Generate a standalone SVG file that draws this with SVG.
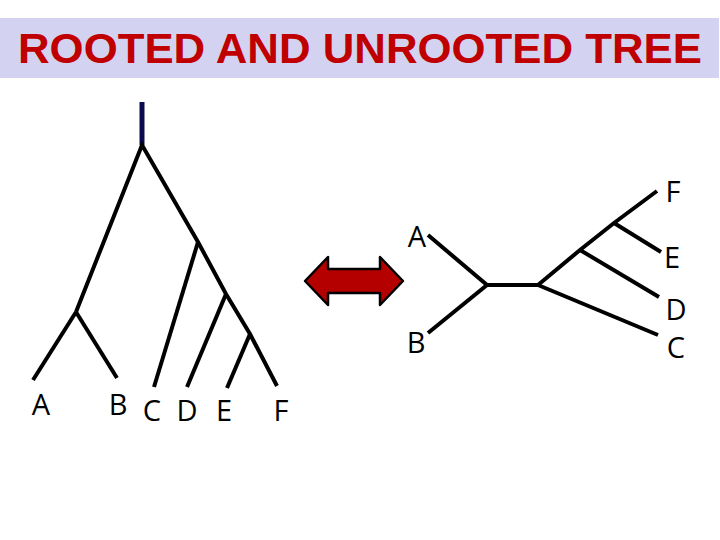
<svg xmlns="http://www.w3.org/2000/svg" width="720" height="540" viewBox="0 0 720 540">
<style>
.title{font-family:"Liberation Sans",Arial,sans-serif;font-weight:bold;font-size:43px;fill:#c00000}
.lbl{font-family:"Open Sans","DejaVu Sans",sans-serif;font-size:29px;fill:#000}
.br{stroke:#000;stroke-width:4;fill:none;stroke-linecap:butt}
</style>
<rect x="0" y="18" width="719" height="60" fill="#d3d3f1"/>
<text class="title" x="360" y="63" text-anchor="middle" textLength="684" lengthAdjust="spacingAndGlyphs">ROOTED AND UNROOTED TREE</text>
<g id="connectors">
<line x1="142" y1="102" x2="142" y2="145" stroke="#0a0a50" stroke-width="5"/>
<polyline class="br" points="76,312 142,145 198,242 226,294 250,334 277,386"/>
<line class="br" x1="76" y1="312" x2="33" y2="380"/>
<line class="br" x1="76" y1="312" x2="117" y2="378"/>
<line class="br" x1="198" y1="242" x2="154" y2="387"/>
<line class="br" x1="226" y1="294" x2="187" y2="387"/>
<line class="br" x1="250" y1="334" x2="227" y2="388"/>
<polyline class="br" points="428,235 487,285 428,333"/>
<line class="br" x1="487" y1="285" x2="538" y2="285"/>
<line class="br" x1="538" y1="285" x2="658" y2="335"/>
<polyline class="br" points="538,285 580,250 614,223 657,191"/>
<line class="br" x1="580" y1="250" x2="659" y2="297"/>
<line class="br" x1="614" y1="223" x2="661" y2="252"/>
</g>
<g id="arrow">
<polygon points="305,281 328,257 328,269 380,269 380,257 403,281 380,305 380,293 328,293 328,305" fill="#b50000" stroke="#000" stroke-width="2.5" stroke-linejoin="round"/>
</g>
<g id="rooted-labels">
<text class="lbl" x="41" y="415" text-anchor="middle">A</text>
<text class="lbl" x="118" y="415" text-anchor="middle">B</text>
<text class="lbl" x="152" y="421" text-anchor="middle">C</text>
<text class="lbl" x="187" y="421" text-anchor="middle">D</text>
<text class="lbl" x="224" y="421" text-anchor="middle">E</text>
<text class="lbl" x="281" y="421" text-anchor="middle">F</text>
</g>
<g id="unrooted-labels">
<text class="lbl" x="417" y="247" text-anchor="middle">A</text>
<text class="lbl" x="416" y="353" text-anchor="middle">B</text>
<text class="lbl" x="673" y="202" text-anchor="middle">F</text>
<text class="lbl" x="672" y="268" text-anchor="middle">E</text>
<text class="lbl" x="676" y="320" text-anchor="middle">D</text>
<text class="lbl" x="676" y="358" text-anchor="middle">C</text>
</g>
</svg>
